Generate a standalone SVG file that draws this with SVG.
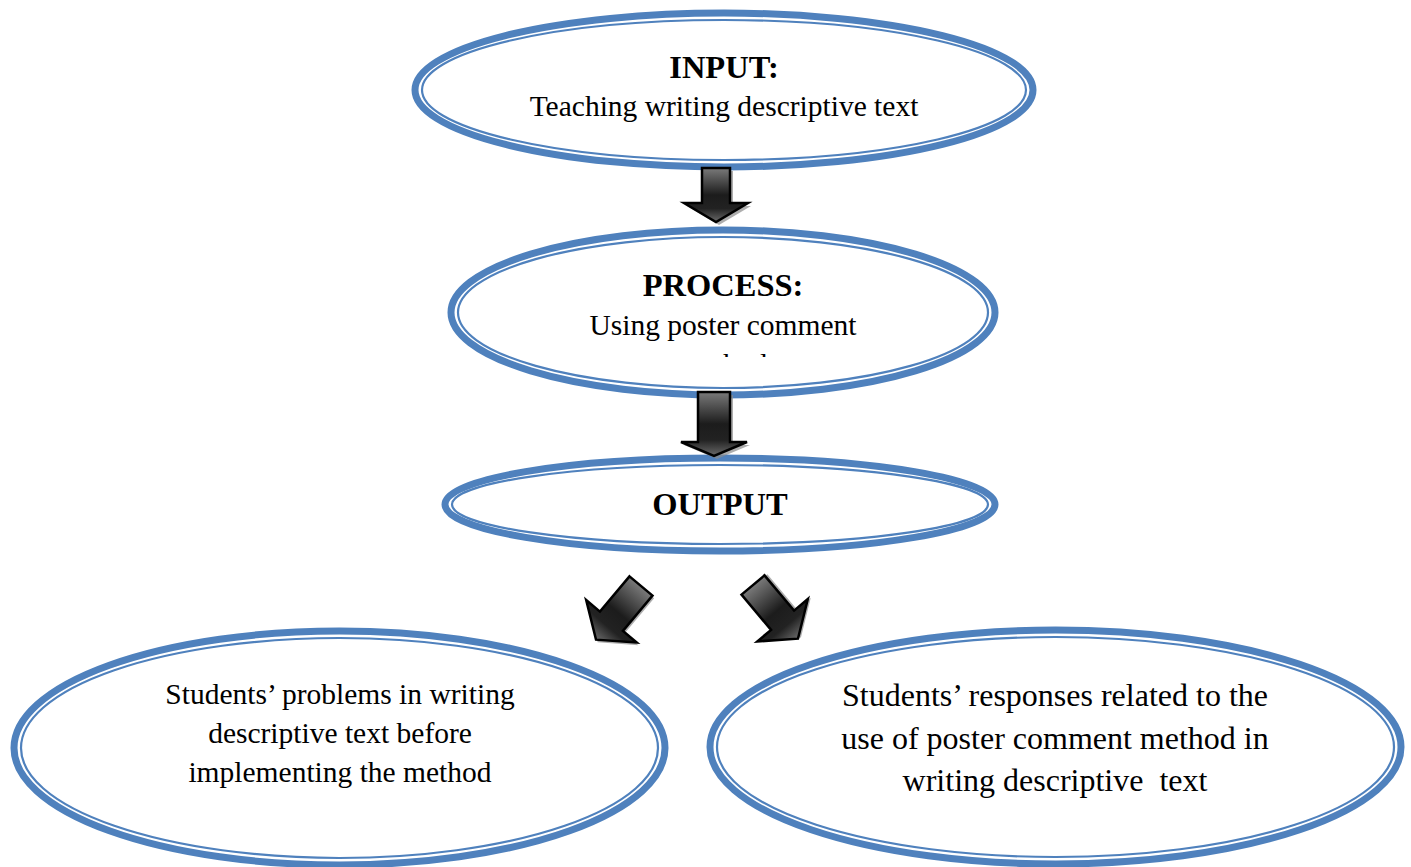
<svg xmlns="http://www.w3.org/2000/svg" width="1411" height="867" viewBox="0 0 1411 867">
<style>
.outer{fill:#fff;stroke:#4F81BD;stroke-width:7}
.inner{fill:none;stroke:#4F81BD;stroke-width:2.2}
.t{font-family:"Liberation Serif","Times New Roman",serif;fill:#000;text-anchor:middle}
.b{font-weight:bold;font-size:32.5px}
.r{font-size:29.5px}
.r2{font-size:32px}
.arr{fill:url(#ag);stroke:#000;stroke-width:2.5;stroke-linejoin:miter}
.sh{fill:#8c8c8c;opacity:0.7}
</style>
<defs>
<linearGradient id="ag" x1="0" y1="0" x2="0" y2="1">
<stop offset="0" stop-color="#7a7a7a"/>
<stop offset="0.5" stop-color="#1c1c1c"/>
<stop offset="0.75" stop-color="#222"/>
<stop offset="1" stop-color="#6a6a6a"/>
</linearGradient>
<clipPath id="pclip"><rect x="500" y="340" width="450" height="17"/></clipPath>
</defs>
<g id="input">
<ellipse class="outer" cx="724" cy="90" rx="309" ry="77"/>
<ellipse class="inner" cx="724" cy="90" rx="302" ry="70"/>
<text class="t b" x="724" y="78">INPUT:</text>
<text class="t r" x="724" y="116">Teaching writing descriptive text</text>
</g>
<g id="process">
<ellipse class="outer" cx="723" cy="312.5" rx="272" ry="82.5"/>
<ellipse class="inner" cx="723" cy="312.5" rx="265" ry="75.5"/>
<text class="t b" x="723" y="296">PROCESS:</text>
<text class="t r" x="723" y="335">Using poster comment</text>
<text class="t r" x="723" y="374" clip-path="url(#pclip)">method</text>
</g>
<g id="output">
<ellipse class="outer" cx="720" cy="504.5" rx="275" ry="46.5"/>
<ellipse class="inner" cx="720" cy="504.5" rx="268" ry="39.5"/>
<text class="t b" x="720" y="515">OUTPUT</text>
</g>
<g id="problems">
<ellipse class="outer" cx="339.5" cy="748" rx="325.5" ry="117"/>
<ellipse class="inner" cx="339.5" cy="748" rx="318.5" ry="110"/>
<text class="t r" x="340" y="704">Students’ problems in writing</text>
<text class="t r" x="340" y="743">descriptive text before</text>
<text class="t r" x="340" y="782">implementing the method</text>
</g>
<g id="responses">
<ellipse class="outer" cx="1055.5" cy="747" rx="345.5" ry="117"/>
<ellipse class="inner" cx="1055.5" cy="747" rx="338.5" ry="110"/>
<text class="t r2" x="1055" y="706">Students’ responses related to the</text>
<text class="t r2" x="1055" y="749">use of poster comment method in</text>
<text class="t r2" x="1055" y="791" xml:space="preserve">writing descriptive  text</text>
</g>
<g id="connectors">
<g transform="translate(716,168)">
<path class="sh" transform="translate(3,3)" d="M-14,0H14V35H32L0,54L-32,35H-14Z"/>
<path class="arr" d="M-14,0H14V35H32L0,54L-32,35H-14Z"/>
</g>
<g transform="translate(714,392)">
<path class="sh" transform="translate(3,3)" d="M-16,0H16V50H33L0,64L-33,50H-16Z"/>
<path class="arr" d="M-16,0H16V50H33L0,64L-33,50H-16Z"/>
</g>
<g transform="translate(641,586) rotate(40)">
<path class="sh" transform="translate(3,1)" d="M-15,0H15V46H33L0,70L-33,46H-15Z"/>
<path class="arr" d="M-15,0H15V46H33L0,70L-33,46H-15Z"/>
</g>
<g transform="translate(753,585) rotate(-40)">
<path class="sh" transform="translate(3,1)" d="M-15,0H15V46H33L0,70L-33,46H-15Z"/>
<path class="arr" d="M-15,0H15V46H33L0,70L-33,46H-15Z"/>
</g>
</g>
</svg>
